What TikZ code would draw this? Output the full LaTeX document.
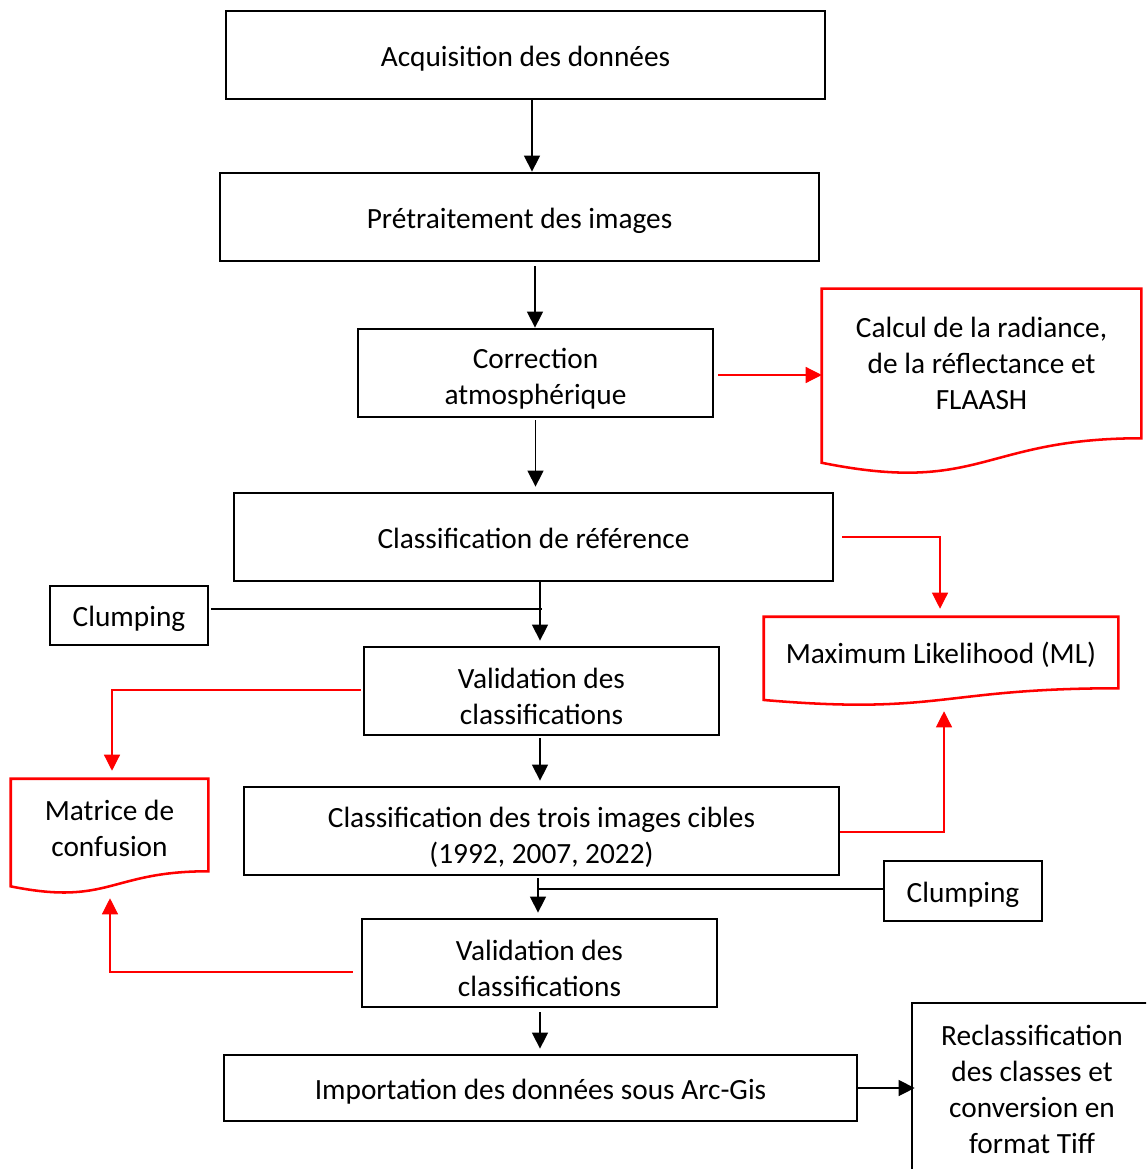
\documentclass[tikz,border=0pt]{standalone}
\usepackage{fontspec}
\setmainfont{Carlito}
\usetikzlibrary{arrows.meta,calc}
\definecolor{myred}{RGB}{255,0,0}
\newcommand\docshape[3]{%
  \draw[reddoc] (#1.north west) -- (#1.north east) -- (#1.south east)
    .. controls (#1.south) and ($(#1.south)+(0,#2)$) .. ($(#1.south west)+(0,#3)$) -- cycle;}
\begin{document}
\begin{tikzpicture}[x=0.75pt,y=-0.75pt,
  txt/.style={align=center, inner sep=0pt, font=\fontsize{22}{27}\selectfont,
    execute at begin node={\rule{0pt}{22.5pt}},
    execute at end node={\rule[-5.5pt]{0pt}{5.5pt}}},
  box/.style={txt, draw=black, line width=2.1pt},
  thinbox/.style={txt, draw=black, line width=1.2pt},
  sz/.style 2 args={minimum width={#1*0.75pt}, minimum height={#2*0.75pt}},
  reddoc/.style={draw=myred, line width=1.9pt},
  arr/.style={draw=black, line width=1.1pt, -{Triangle[length=12pt,width=12pt]}},
  redarr/.style={draw=myred, line width=0.9pt, -{Triangle[length=12pt,width=12pt]}},
  ln/.style={draw=black, line width=0.9pt}]
\useasboundingbox (0,0) rectangle (1146,1169);
\clip (0,0) rectangle (1146,1169);

% main boxes
\node[box, sz={599}{88}] (A) at (525.5,55) {Acquisition des données};
\node[box, sz={599}{88}] (P) at (519.5,217) {Prétraitement des images};
\node[box, sz={355}{88}] (C) at (535.5,373) {};
\node[txt] (Ct) at ($(C)+(0,7.5)$) {Correction\\atmosphérique};
\node[box, sz={599}{88}] (R) at (533.5,537) {Classification de référence};
\node[thinbox, sz={158}{59}] (K1) at (129,615.5) {Clumping};
\node[box, sz={355}{88}] (V1) at (541.5,691) {};
\node[txt] (V1t) at ($(V1)+(0,8.5)$) {Validation des\\classifications};
\node[box, sz={595}{88}] (T) at (541.5,831) {};
\node[txt] (Tt) at ($(T)+(0,8)$) {Classification des trois images cibles\\(1992, 2007, 2022)};
\node[thinbox, sz={158}{60}] (K2) at (963,891) {Clumping};
\node[box, sz={355}{88}] (V2) at (539.5,963) {};
\node[txt] (V2t) at ($(V2)+(0,8.5)$) {Validation des\\classifications};
\node[box, sz={633}{66}] (I) at (540.5,1088) {Importation des données sous Arc-Gis};
\node[box, sz={240}{172}] (X) at (1032,1089) {};
\node[txt] (Xt) at ($(X)+(0,4)$) {Reclassification\\des classes et\\conversion en\\format Tiff};

% document shapes
\node[sz={319}{149}, inner sep=0pt] (calc) at (981.5,363.5) {};
\node[txt] (calct) at ($(calc)+(0,3)$) {Calcul de la radiance,\\de la réflectance et\\FLAASH};
\docshape{calc}{56.7}{24.5}
\node[txt, sz={354}{71}] (ML) at (941,652.5) {Maximum Likelihood (ML)};
\docshape{ML}{27}{11.7}
\node[sz={197}{92}, inner sep=0pt] (M) at (109.5,825) {};
\node[txt] (Mt) at ($(M)+(0,7)$) {Matrice de\\confusion};
\docshape{M}{35}{15.1}

% black vertical flow
\coordinate (a1) at ($(A.south)+(6.5,0)$);
\draw[arr] (a1) -- (a1 |- P.north);
\coordinate (a2) at ($(P.south)+(15.5,4)$);
\draw[arr] (a2) -- (a2 |- C.north);
\coordinate (a3) at ($(C.south)+(0,2)$);
\draw[arr] (a3) -- ($(a3 |- R.north)+(0,-5)$);
\coordinate (a4) at ($(R.south)+(6.5,0)$);
\draw[arr] (a4) -- ($(a4 |- V1.north)+(0,-5)$);
\coordinate (k1) at ($(K1.east)+(2,-6.5)$);
\draw[ln] (k1) -- ($(k1 -| a4)+(2,0)$);
\coordinate (a5) at ($(V1.south)+(-1.5,2)$);
\draw[arr] (a5) -- ($(a5 |- T.north)+(0,-5)$);
\coordinate (a6) at ($(T.south)+(-3.5,2)$);
\draw[arr] (a6) -- ($(a6 |- V2.north)+(0,-5)$);
\coordinate (k2) at ($(K2.west)+(0,-2)$);
\draw[ln] (k2) -- (k2 -| a6);
\coordinate (a7) at ($(V2.south)+(0.5,4)$);
\draw[arr] (a7) -- ($(a7 |- I.north)+(0,-5)$);
\draw[arr] (I.east) -- ($(I.east -| X.west)+(4,0)$);

% red connectors
\coordinate (c1) at ($(C.east)+(4,2)$);
\draw[redarr] (c1) -- (c1 -| calc.west);
\coordinate (r1) at ($(R.east)+(8,0)$);
\coordinate (mlt) at ($(ML.north)+(-1,-8)$);
\draw[redarr] (r1) -| (mlt);
\coordinate (v1) at ($(V1.west)+(-2,-1)$);
\coordinate (mt) at ($(M.north)+(2.5,-8)$);
\draw[redarr] (v1) -| (mt);
\coordinate (t1) at ($(T.east)+(0,1)$);
\coordinate (mlb) at ($(ML.south)+(3,23)$);
\draw[redarr] (t1) -| (mlb);
\coordinate (v2) at ($(V2.west)+(-8,9)$);
\coordinate (mb) at ($(M.south)+(0.5,27)$);
\draw[redarr] (v2) -| (mb);
\end{tikzpicture}
\end{document}
